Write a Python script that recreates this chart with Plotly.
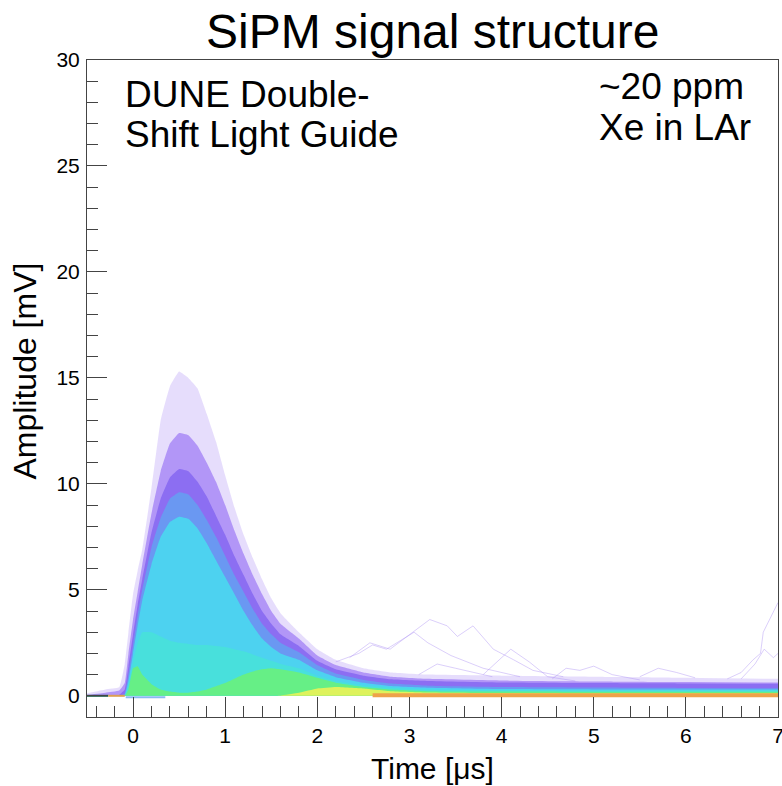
import plotly.graph_objects as go

# ---------------- data ----------------
# time knots [µs]
T = [-0.5, -0.3, -0.15, -0.09, -0.05, 0.0, 0.05, 0.1, 0.2, 0.3, 0.4, 0.5, 0.6, 0.7, 0.8, 0.9,
     1.0, 1.1, 1.2, 1.3, 1.4, 1.5, 1.6, 1.8, 2.0, 2.2, 2.5, 2.8, 3.2, 4.0, 5.0, 6.0, 7.0]

# upper edges [mV] of the density levels (outermost / sparsest first)
sparse_edge = [0.12, 0.3, 0.4, 1.5, 3.0, 4.8, 5.9, 6.9, 9.8, 13.0, 14.6, 15.3, 15.0, 14.5, 13.3, 12.0,
               10.4, 8.9, 7.6, 6.5, 5.5, 4.6, 3.9, 3.0, 2.2, 1.7, 1.3, 1.1, 1.0, 0.95, 0.9, 0.85, 0.8]
light_purple_edge = [0.05, 0.15, 0.25, 0.6, 2.0, 3.6, 4.9, 6.2, 8.6, 10.6, 11.9, 12.4, 12.3, 11.8, 11.0, 10.1,
                     9.0, 7.8, 6.7, 5.7, 4.8, 4.0, 3.4, 2.7, 1.9, 1.45, 1.1, 0.9, 0.8, 0.72, 0.68, 0.65, 0.63]
purple_edge = [0.0, 0.0, 0.05, 0.3, 1.4, 2.9, 4.3, 5.5, 7.7, 9.3, 10.3, 10.7, 10.6, 10.1, 9.4, 8.5,
               7.6, 6.6, 5.7, 4.8, 4.0, 3.4, 2.9, 2.35, 1.65, 1.25, 0.95, 0.78, 0.7, 0.63, 0.6, 0.58, 0.57]
blue_edge = [0.0, 0.0, 0.0, 0.1, 1.0, 2.4, 3.8, 5.0, 7.0, 8.4, 9.3, 9.6, 9.5, 9.0, 8.3, 7.5,
             6.6, 5.7, 4.9, 4.1, 3.4, 2.9, 2.5, 2.05, 1.45, 1.05, 0.75, 0.58, 0.48, 0.42, 0.39, 0.37, 0.36]
cyan_edge = [0.0, 0.0, 0.0, 0.05, 0.7, 2.0, 3.3, 4.5, 6.2, 7.5, 8.2, 8.45, 8.35, 7.9, 7.2, 6.4,
             5.6, 4.8, 4.0, 3.3, 2.7, 2.3, 2.0, 1.7, 1.2, 0.88, 0.62, 0.46, 0.38, 0.32, 0.3, 0.3, 0.3]
aqua_edge = [0.0, 0.0, 0.0, 0.0, 0.5, 1.6, 2.5, 3.0, 3.0, 2.8, 2.6, 2.5, 2.45, 2.4, 2.4, 2.35,
             2.3, 2.2, 2.1, 1.95, 1.8, 1.65, 1.5, 1.3, 0.95, 0.7, 0.5, 0.38, 0.3, 0.26, 0.25, 0.25, 0.25]
green_edge = [0.0, 0.0, 0.0, 0.0, 0.3, 1.3, 1.4, 1.0, 0.55, 0.3, 0.2, 0.15, 0.15, 0.2, 0.3, 0.45,
              0.6, 0.8, 1.0, 1.15, 1.25, 1.3, 1.25, 1.1, 0.85, 0.62, 0.42, 0.3, 0.22, 0.2, 0.19, 0.19, 0.19]
yellow_edge = [0.0, 0.0, 0.0, 0.0, 0.0, 0.0, 0.0, 0.0, 0.0, 0.0, 0.0, 0.0, 0.0, 0.0, 0.0, 0.0,
               0.0, 0.0, 0.0, 0.0, 0.0, 0.0, 0.02, 0.15, 0.35, 0.42, 0.35, 0.22, 0.16, 0.13, 0.12, 0.12, 0.12]

levels = [
    ("sparse", sparse_edge, "rgba(190,165,248,0.38)"),
    ("light purple", light_purple_edge, "rgba(160,125,245,0.75)"),
    ("purple", purple_edge, "#8c6ef2"),
    ("blue", blue_edge, "#6a98f2"),
    ("cyan", cyan_edge, "#4dd2f0"),
    ("aqua", aqua_edge, "#48e0dc"),
    ("green", green_edge, "#66ef86"),
    ("yellow", yellow_edge, "#def25c"),
]

# baseline segments
pre_dark_t = [-0.5, -0.27]
pre_dark_a = [0.0, 0.0]
pre_orange_t = [-0.27, -0.09]
pre_orange_a = [0.0, 0.0]
under_t = [-0.08, 0.35]
under_a = [-0.07, -0.07]
orange_t = [2.6, 3.2, 4.0, 5.0, 6.0, 7.0]
orange_a = [0.03, 0.03, 0.03, 0.03, 0.03, 0.03]

# a few individual faint waveforms (after-pulses)
traces_t = [
    [2.35, 2.57, 2.79, 2.97, 3.22, 3.41, 3.52, 3.69, 3.91, 4.13, 4.34, 4.67],
    [2.2, 2.45, 2.6, 2.75, 2.9, 3.05, 3.2, 3.45, 3.8, 4.2],
    [3.8, 3.95, 4.1, 4.3, 4.5, 4.8],
    [4.55, 4.7, 4.85, 5.0, 5.2, 5.5],
    [6.45, 6.6, 6.73, 6.81, 6.84, 6.92, 7.0],
    [6.6, 6.75, 6.85, 6.95, 7.0],
    [3.1, 3.3, 3.5, 3.7, 3.9],
    [5.5, 5.7, 5.9, 6.1],
]
traces_a = [
    [1.8, 2.5, 2.2, 2.8, 3.6, 3.3, 2.8, 3.3, 2.2, 1.7, 1.2, 0.9],
    [1.6, 2.0, 2.4, 2.2, 2.6, 3.0, 2.5, 1.9, 1.3, 0.9],
    [1.0, 1.6, 2.2, 1.6, 0.9, 0.7],
    [0.8, 1.3, 1.2, 1.4, 1.0, 0.75],
    [0.8, 1.1, 1.7, 2.0, 3.0, 3.7, 4.4],
    [0.8, 1.5, 2.2, 1.8, 2.0],
    [1.0, 1.5, 1.3, 1.1, 0.9],
    [0.9, 1.3, 1.1, 0.85],
]

x_range = [-0.5, 7.0]
y_range = [-1.0, 30.0]

# ---------------- figure ----------------
fig = go.Figure()

for i, (name, edge, col) in enumerate(levels):
    fig.add_trace(go.Scatter(
        x=T, y=edge, mode="lines", fill="tozeroy", fillcolor=col,
        line=dict(width=0, color=col, shape="spline", smoothing=0.3),
        hoverinfo="skip", showlegend=False, name=name))
    if i == 1:
        for tt, aa in zip(traces_t, traces_a):
            fig.add_trace(go.Scatter(x=tt, y=aa, mode="lines",
                                     line=dict(width=1, color="rgba(175,148,245,0.45)"),
                                     hoverinfo="skip", showlegend=False))

fig.add_trace(go.Scatter(x=orange_t, y=orange_a, mode="lines",
                         line=dict(width=4, color="#eea24a"), hoverinfo="skip", showlegend=False))
fig.add_trace(go.Scatter(x=under_t, y=under_a, mode="lines",
                         line=dict(width=2, color="#8ab8f4"), hoverinfo="skip", showlegend=False))
fig.add_trace(go.Scatter(x=pre_dark_t, y=pre_dark_a, mode="lines",
                         line=dict(width=2, color="#1d5a48"), hoverinfo="skip", showlegend=False))
fig.add_trace(go.Scatter(x=pre_orange_t, y=pre_orange_a, mode="lines",
                         line=dict(width=2, color="#dca052"), hoverinfo="skip", showlegend=False))

FONT = "Liberation Sans, Arial, sans-serif"
axis_common = dict(
    showgrid=False, zeroline=False, showline=True, linecolor="#444", linewidth=1,
    mirror=True, ticks="inside", tickcolor="#444", tickwidth=1, ticklen=20,
    tickfont=dict(family=FONT, size=21, color="black"), ticklabeloverflow="allow",
    automargin=False,
)

fig.update_xaxes(range=x_range, dtick=1, tick0=0, ticklabelstandoff=0,
                 minor=dict(dtick=0.2, tick0=0, ticks="inside", ticklen=11, tickcolor="#444", tickwidth=1),
                 **axis_common)
fig.update_yaxes(range=y_range, dtick=5, tick0=0, ticklabelstandoff=2,
                 minor=dict(dtick=1, tick0=0, ticks="inside", ticklen=11, tickcolor="#444", tickwidth=1),
                 **axis_common)

ann = []
def txt(s, x, y, size, xanchor="left", angle=0):
    ann.append(dict(text=s, x=x, y=y, xref="paper", yref="paper", showarrow=False,
                    xanchor=xanchor, yanchor="middle", textangle=angle,
                    font=dict(family=FONT, size=size, color="black")))

txt("SiPM signal structure", 0.5, 1.044, 48, xanchor="center")
txt("DUNE Double-", 0.052, 0.947, 37)
txt("Shift Light Guide", 0.052, 0.886, 37)
txt("~20 ppm", 0.738, 0.959, 37)
txt("Xe in LAr", 0.738, 0.898, 37)
txt("Time [μs]", 0.5, -0.078, 30, xanchor="center")
txt("Amplitude [mV]", -0.09, 0.527, 32, xanchor="center", angle=-90)

fig.update_layout(
    width=782, height=786,
    margin=dict(l=87, r=4, t=60, b=69),
    paper_bgcolor="white", plot_bgcolor="white",
    annotations=ann, showlegend=False,
)

fig.write_html("out.html")
